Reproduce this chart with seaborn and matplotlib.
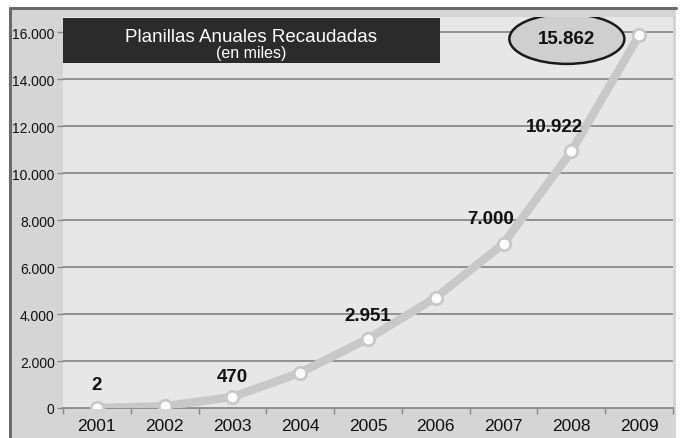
import matplotlib
matplotlib.use("Agg")
import matplotlib.pyplot as plt
import seaborn as sns
import pandas as pd
from matplotlib.patches import Rectangle, Ellipse

years = ["2001", "2002", "2003", "2004", "2005", "2006", "2007", "2008", "2009"]
values = [2, 80, 470, 1500, 2951, 4700, 7000, 10922, 15862]
labels = {0: "2", 2: "470", 4: "2.951", 6: "7.000", 7: "10.922"}
yticks = [0, 2000, 4000, 6000, 8000, 10000, 12000, 14000, 16000]
ytick_labels = ["0", "2.000", "4.000", "6.000", "8.000", "10.000", "12.000", "14.000", "16.000"]

sns.set_theme(style="white")
plt.rcParams['font.family'] = ['Liberation Sans', 'DejaVu Sans']

fig = plt.figure(figsize=(6.81, 4.39), dpi=100)
fig.patch.set_facecolor("white")
W, H = 681, 439
# outer frame
fig.patches.append(Rectangle((10 / W, 0), 666 / W, 430 / H, transform=fig.transFigure,
                             facecolor="#d5d5d5", edgecolor="none", zorder=-5))
fig.lines.append(plt.Line2D([10 / W, 676 / W], [430 / H, 430 / H], transform=fig.transFigure,
                            color="#6a6a6a", lw=2.2, zorder=-4))
fig.lines.append(plt.Line2D([10 / W, 10 / W], [0, 430 / H], transform=fig.transFigure,
                            color="#6a6a6a", lw=2.2, zorder=-4))

ax = fig.add_axes([63 / W, 1 - 409 / H, 610 / W, 391 / H])
ax.set_zorder(5)
ax.set_facecolor("#e7e7e7")

df = pd.DataFrame({"year": years, "value": values})
df["x"] = range(len(years))
sns.lineplot(data=df, x="x", y="value", ax=ax, color="#c8c8c8", lw=6, marker="o",
             markersize=9, markerfacecolor="white", markeredgecolor="#c8c8c8",
             markeredgewidth=2, zorder=5)

ax.set_xlim(-0.5, 8.5)
ax.set_ylim(0, 16640)
ax.set_yticks(yticks)
ax.set_yticklabels(ytick_labels, fontsize=10, color="#111111")
ax.set_xticks(range(len(years)))
ax.set_xticklabels(years, fontsize=12.5, color="#111111")
ax.set_xticks([i + 0.5 for i in range(-1, len(years))], minor=True)
ax.tick_params(axis="x", which="major", length=0, pad=7)
ax.tick_params(axis="x", which="minor", length=4, color="#888888", width=1, direction="out", bottom=True)
ax.tick_params(axis="y", length=4, color="#888888", width=1, pad=2, left=True)
ax.set_xlabel("")
ax.set_ylabel("")
for y in yticks[1:]:
    ax.axhline(y, color="#8a8a8a", lw=1.3, zorder=1)
for s in ["top", "right", "left"]:
    ax.spines[s].set_visible(False)
ax.spines["bottom"].set_color("#8a8a8a")
ax.spines["bottom"].set_linewidth(1.3)

offsets = {0: (0, 17), 2: (0, 15), 4: (0, 17), 6: (-9, 18), 7: (-12, 18)}
for i, t in labels.items():
    ax.annotate(t, (i, values[i]), xytext=offsets[i], textcoords="offset points",
                ha="center", va="center", fontsize=13.5, fontweight="bold", color="#111111",
                zorder=6)

# ellipse for last value
ell = Ellipse((0.826, 0.944), 115 / 610, 50 / 391, transform=ax.transAxes,
              facecolor="#cfcfcf", edgecolor="#1a1a1a", lw=1.8, zorder=4)
ax.add_patch(ell)
ax.text(0.826, 0.944, "15.862", transform=ax.transAxes, ha="center", va="center",
        fontsize=13.5, fontweight="bold", color="#111111", zorder=6)

# title box
ax.add_patch(Rectangle((0, 0.882), 0.618, 0.115, transform=ax.transAxes,
                       facecolor="#2b2b2b", edgecolor="none", zorder=4, clip_on=False))
ax.text(0.309, 0.950, "Planillas Anuales Recaudadas", transform=ax.transAxes,
        ha="center", va="center", fontsize=13.5, color="white", zorder=6)
ax.text(0.309, 0.908, "(en miles)", transform=ax.transAxes,
        ha="center", va="center", fontsize=11.5, color="white", zorder=6)

fig.savefig("out.png", dpi=100)
